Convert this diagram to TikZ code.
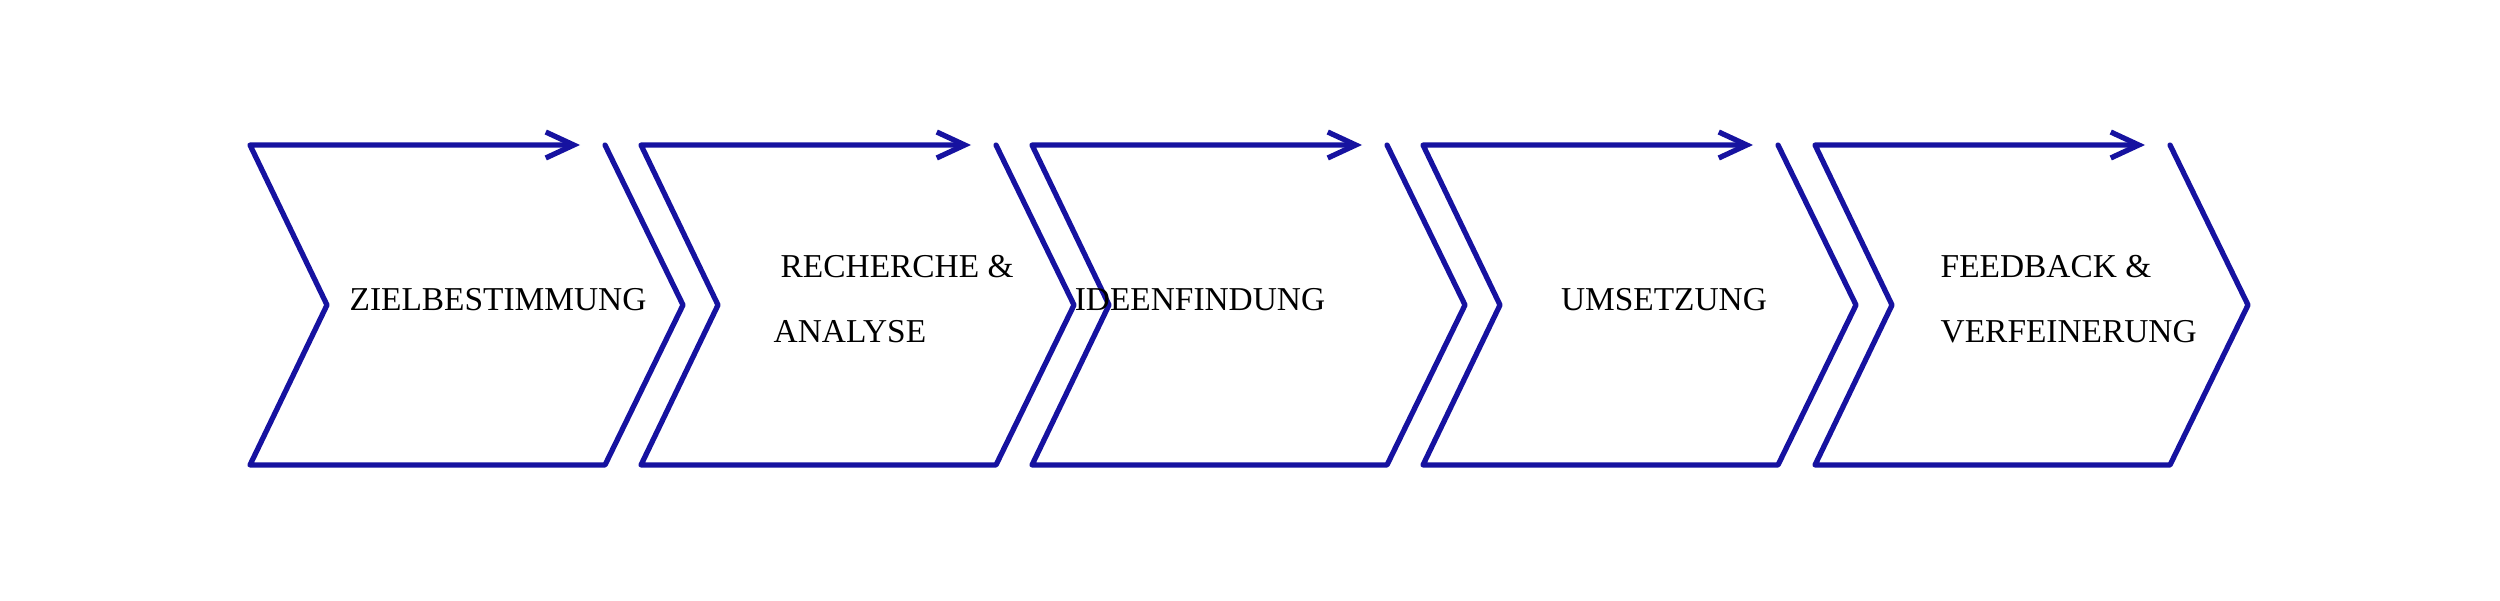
\documentclass[tikz,border=0pt]{standalone}
\usepackage{fontspec}
\setmainfont{Liberation Serif}
\usetikzlibrary{arrows.meta}
\definecolor{stepblue}{RGB}{22,18,160}

\begin{document}
\begin{tikzpicture}
    \tikzstyle{chev} = [line width=1.5pt,draw=stepblue,line join=round,line cap=round]
    \tikzstyle{label}=[font=\fontsize{9.5}{10}\selectfont,text=black,inner sep=0pt]
    \useasboundingbox (0,0) rectangle (25,6);

    % five chevrons with their arrows on top
    \foreach \x in {2.50,6.41,10.32,14.23,18.15} {
      \draw[chev,-{Straight Barb[length=2.8mm,width=2.6mm]}]
        (\x+3.55,4.55) -- (\x+4.33,2.95) -- (\x+3.55,1.35) -- (\x,1.35)
        -- (\x+0.77,2.95) -- (\x,4.55) -- (\x+3.30,4.55);
    }

    \node[label] (ziel) at (4.98,3.00) {ZIELBESTIMMUNG};
    \node[label,anchor=west] (rech) at (7.80,3.33) {RECHERCHE \&};
    \node[label,anchor=west] (anal) at (7.73,2.68) {ANALYSE};
    \node[label] (idee) at (12.00,3.00) {IDEENFINDUNG};
    \node[label] (umse) at (16.64,3.00) {UMSETZUNG};
    \node[label,anchor=west] (feed) at (19.40,3.33) {FEEDBACK \&};
    \node[label,anchor=west] (verf) at (19.40,2.68) {VERFEINERUNG};
\end{tikzpicture}
\end{document}
